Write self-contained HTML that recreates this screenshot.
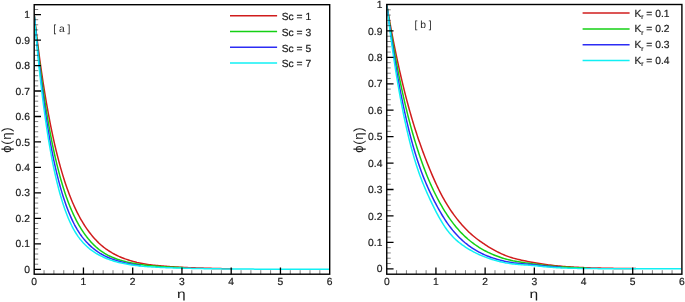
<!DOCTYPE html>
<html lang="en"><head><meta charset="utf-8"><title>Concentration profiles</title>
<style>
html,body{margin:0;padding:0;background:#fff;overflow:hidden}
svg{display:block;font-family:"Liberation Sans", Arial, Helvetica, sans-serif;text-rendering:geometricPrecision}
</style></head><body>
<svg width="685" height="302" viewBox="0 0 685 302">
<rect width="685" height="302" fill="#fff"/>
<g id="panel-a">
<clipPath id="clip-a"><rect x="34.9" y="5.4" width="294.1" height="268.1"/></clipPath>
<g clip-path="url(#clip-a)">
<path d="M34.2 14.6 L34.25 15.01 L34.34 15.83 L34.47 16.95 L34.62 18.31 L34.8 19.88 L35.01 21.65 L35.23 23.58 L35.48 25.67 L35.75 27.91 L36.03 30.28 L36.33 32.76 L36.65 35.37 L36.98 38.07 L37.33 40.87 L37.7 43.75 L38.08 46.71 L38.48 49.75 L38.88 52.85 L39.31 56.01 L39.74 59.23 L40.19 62.49 L40.66 65.79 L41.13 69.13 L41.62 72.51 L42.12 75.9 L42.64 79.33 L43.16 82.76 L43.7 86.22 L44.25 89.68 L44.81 93.15 L45.38 96.61 L45.96 100.08 L46.55 103.54 L47.16 106.99 L47.77 110.43 L48.4 113.86 L49.04 117.26 L49.68 120.65 L50.34 124.02 L51.01 127.35 L51.69 130.67 L52.37 133.95 L53.07 137.2 L53.78 140.41 L54.49 143.6 L55.22 146.74 L55.96 149.85 L56.7 152.91 L57.46 155.94 L58.22 158.92 L58.99 161.86 L59.78 164.75 L60.57 167.6 L61.37 170.41 L62.18 173.16 L63 175.87 L63.82 178.53 L64.66 181.15 L65.5 183.71 L66.36 186.23 L67.22 188.69 L68.09 191.11 L68.97 193.48 L69.85 195.79 L70.75 198.06 L71.65 200.28 L72.57 202.45 L73.49 204.57 L74.41 206.64 L75.35 208.66 L76.3 210.63 L77.25 212.56 L78.21 214.44 L79.18 216.27 L80.15 218.05 L81.14 219.79 L82.13 221.49 L83.13 223.14 L84.14 224.75 L85.15 226.31 L86.18 227.84 L87.21 229.33 L88.24 230.77 L89.29 232.18 L90.34 233.55 L91.4 234.88 L92.47 236.18 L93.55 237.44 L94.63 238.66 L95.72 239.85 L96.82 241 L97.92 242.11 L99.03 243.19 L100.15 244.22 L101.28 245.22 L102.41 246.19 L103.55 247.12 L104.7 248.01 L105.85 248.87 L107.01 249.69 L108.18 250.49 L109.36 251.25 L110.54 251.98 L111.73 252.69 L112.93 253.36 L114.13 254.01 L115.34 254.64 L116.56 255.25 L117.78 255.83 L119.01 256.4 L120.25 256.94 L121.49 257.46 L122.74 257.96 L124 258.44 L125.26 258.91 L126.53 259.35 L127.81 259.79 L129.09 260.2 L130.38 260.61 L131.68 261 L132.98 261.37 L134.29 261.73 L135.61 262.08 L136.93 262.42 L138.26 262.73 L139.59 263.02 L140.93 263.3 L142.28 263.56 L143.64 263.8 L145 264.03 L146.36 264.24 L147.74 264.44 L149.12 264.63 L150.5 264.8 L151.89 264.98 L153.29 265.14 L154.7 265.3 L156.11 265.45 L157.52 265.6 L158.95 265.74 L160.37 265.87 L161.81 266 L163.25 266.12 L164.7 266.24 L166.15 266.36 L167.61 266.47 L169.07 266.57 L170.54 266.67 L172.02 266.77 L173.5 266.87 L174.99 266.96 L176.49 267.04 L177.99 267.12 L179.5 267.21 L181.01 267.28 L182.53 267.36 L184.05 267.43 L185.58 267.5 L187.12 267.57 L188.66 267.63 L190.21 267.7 L191.76 267.76 L193.32 267.81 L194.88 267.87 L196.45 267.92 L198.03 267.97 L199.61 268.02 L201.2 268.07 L202.79 268.12 L204.39 268.17 L206 268.21 L207.61 268.26 L209.22 268.3 L210.84 268.35 L212.47 268.39 L214.1 268.44 L215.74 268.48 L217.39 268.52 L219.04 268.56 L220.69 268.59 L222.35 268.63 L224.02 268.66 L225.69 268.69 L227.36 268.72 L229.05 268.75 L230.74 268.78 L232.43 268.81" fill="none" stroke="#d01c1c" stroke-width="1.5" stroke-linejoin="round"/>
<path d="M34.2 14.6 L34.25 15.06 L34.34 15.98 L34.47 17.23 L34.62 18.76 L34.8 20.52 L35.01 22.5 L35.23 24.66 L35.48 27 L35.75 29.49 L36.03 32.13 L36.33 34.9 L36.65 37.8 L36.98 40.8 L37.33 43.9 L37.7 47.09 L38.08 50.37 L38.48 53.72 L38.88 57.13 L39.31 60.61 L39.74 64.14 L40.19 67.71 L40.66 71.32 L41.13 74.97 L41.62 78.64 L42.12 82.33 L42.64 86.04 L43.16 89.76 L43.7 93.49 L44.25 97.22 L44.81 100.94 L45.38 104.66 L45.96 108.37 L46.55 112.06 L47.16 115.73 L47.77 119.38 L48.4 123 L49.04 126.6 L49.68 130.16 L50.34 133.69 L51.01 137.19 L51.69 140.64 L52.37 144.06 L53.07 147.43 L53.78 150.75 L54.49 154.03 L55.22 157.27 L55.96 160.45 L56.7 163.58 L57.46 166.66 L58.22 169.69 L58.99 172.66 L59.78 175.58 L60.57 178.44 L61.37 181.25 L62.18 184 L63 186.69 L63.82 189.33 L64.66 191.91 L65.5 194.43 L66.36 196.9 L67.22 199.31 L68.09 201.66 L68.97 203.95 L69.85 206.19 L70.75 208.37 L71.65 210.5 L72.57 212.57 L73.49 214.58 L74.41 216.54 L75.35 218.45 L76.3 220.31 L77.25 222.11 L78.21 223.86 L79.18 225.56 L80.15 227.21 L81.14 228.82 L82.13 230.38 L83.13 231.89 L84.14 233.35 L85.15 234.77 L86.18 236.15 L87.21 237.48 L88.24 238.78 L89.29 240.02 L90.34 241.23 L91.4 242.4 L92.47 243.53 L93.55 244.62 L94.63 245.67 L95.72 246.68 L96.82 247.66 L97.92 248.6 L99.03 249.51 L100.15 250.37 L101.28 251.2 L102.41 251.98 L103.55 252.73 L104.7 253.45 L105.85 254.12 L107.01 254.77 L108.18 255.38 L109.36 255.96 L110.54 256.51 L111.73 257.04 L112.93 257.54 L114.13 258.02 L115.34 258.48 L116.56 258.92 L117.78 259.35 L119.01 259.76 L120.25 260.15 L121.49 260.53 L122.74 260.89 L124 261.24 L125.26 261.57 L126.53 261.89 L127.81 262.2 L129.09 262.49 L130.38 262.77 L131.68 263.05 L132.98 263.31 L134.29 263.55 L135.61 263.79 L136.93 264.02 L138.26 264.23 L139.59 264.43 L140.93 264.63 L142.28 264.81 L143.64 264.98 L145 265.15 L146.36 265.31 L147.74 265.45 L149.12 265.6 L150.5 265.73 L151.89 265.87 L153.29 265.99 L154.7 266.11 L156.11 266.23 L157.52 266.34 L158.95 266.45 L160.37 266.55 L161.81 266.65 L163.25 266.74 L164.7 266.83 L166.15 266.92 L167.61 267 L169.07 267.08 L170.54 267.16 L172.02 267.23 L173.5 267.3 L174.99 267.37 L176.49 267.44 L177.99 267.5 L179.5 267.56 L181.01 267.62 L182.53 267.68 L184.05 267.74" fill="none" stroke="#14d014" stroke-width="1.5" stroke-linejoin="round"/>
<path d="M34.2 14.6 L34.25 15.11 L34.34 16.13 L34.47 17.52 L34.62 19.21 L34.8 21.16 L35.01 23.34 L35.23 25.74 L35.48 28.32 L35.75 31.07 L36.03 33.97 L36.33 37.02 L36.65 40.19 L36.98 43.48 L37.33 46.88 L37.7 50.37 L38.08 53.94 L38.48 57.59 L38.88 61.31 L39.31 65.08 L39.74 68.9 L40.19 72.77 L40.66 76.67 L41.13 80.59 L41.62 84.54 L42.12 88.5 L42.64 92.47 L43.16 96.44 L43.7 100.41 L44.25 104.37 L44.81 108.31 L45.38 112.24 L45.96 116.15 L46.55 120.03 L47.16 123.88 L47.77 127.7 L48.4 131.48 L49.04 135.22 L49.68 138.92 L50.34 142.57 L51.01 146.18 L51.69 149.73 L52.37 153.24 L53.07 156.68 L53.78 160.07 L54.49 163.41 L55.22 166.68 L55.96 169.9 L56.7 173.05 L57.46 176.14 L58.22 179.17 L58.99 182.13 L59.78 185.03 L60.57 187.87 L61.37 190.64 L62.18 193.35 L63 195.99 L63.82 198.56 L64.66 201.08 L65.5 203.52 L66.36 205.91 L67.22 208.22 L68.09 210.48 L68.97 212.67 L69.85 214.81 L70.75 216.88 L71.65 218.89 L72.57 220.84 L73.49 222.71 L74.41 224.53 L75.35 226.28 L76.3 227.97 L77.25 229.6 L78.21 231.16 L79.18 232.67 L80.15 234.12 L81.14 235.51 L82.13 236.85 L83.13 238.13 L84.14 239.36 L85.15 240.55 L86.18 241.69 L87.21 242.79 L88.24 243.85 L89.29 244.88 L90.34 245.87 L91.4 246.83 L92.47 247.76 L93.55 248.65 L94.63 249.51 L95.72 250.34 L96.82 251.14 L97.92 251.91 L99.03 252.65 L100.15 253.35 L101.28 254.02 L102.41 254.66 L103.55 255.28 L104.7 255.86 L105.85 256.42 L107.01 256.95 L108.18 257.46 L109.36 257.95 L110.54 258.41 L111.73 258.85 L112.93 259.28 L114.13 259.69 L115.34 260.09 L116.56 260.48 L117.78 260.85 L119.01 261.21 L120.25 261.57 L121.49 261.9 L122.74 262.23 L124 262.55 L125.26 262.86 L126.53 263.15 L127.81 263.43 L129.09 263.7 L130.38 263.96 L131.68 264.2 L132.98 264.44 L134.29 264.66 L135.61 264.87 L136.93 265.07 L138.26 265.26 L139.59 265.43 L140.93 265.59" fill="none" stroke="#2c2cf4" stroke-width="1.5" stroke-linejoin="round"/>
<path d="M34.2 14.6 L34.25 15.15 L34.34 16.27 L34.47 17.78 L34.62 19.62 L34.8 21.74 L35.01 24.11 L35.23 26.7 L35.48 29.5 L35.75 32.48 L36.03 35.63 L36.33 38.92 L36.65 42.35 L36.98 45.9 L37.33 49.55 L37.7 53.31 L38.08 57.14 L38.48 61.06 L38.88 65.03 L39.31 69.07 L39.74 73.15 L40.19 77.26 L40.66 81.41 L41.13 85.57 L41.62 89.75 L42.12 93.94 L42.64 98.13 L43.16 102.31 L43.7 106.48 L44.25 110.64 L44.81 114.77 L45.38 118.87 L45.96 122.94 L46.55 126.98 L47.16 130.97 L47.77 134.93 L48.4 138.83 L49.04 142.68 L49.68 146.48 L50.34 150.23 L51.01 153.91 L51.69 157.53 L52.37 161.09 L53.07 164.59 L53.78 168.02 L54.49 171.38 L55.22 174.68 L55.96 177.9 L56.7 181.05 L57.46 184.14 L58.22 187.15 L58.99 190.09 L59.78 192.95 L60.57 195.75 L61.37 198.47 L62.18 201.12 L63 203.7 L63.82 206.2 L64.66 208.64 L65.5 211 L66.36 213.3 L67.22 215.53 L68.09 217.68 L68.97 219.76 L69.85 221.75 L70.75 223.68 L71.65 225.53 L72.57 227.31 L73.49 229.03 L74.41 230.67 L75.35 232.24 L76.3 233.75 L77.25 235.2 L78.21 236.58 L79.18 237.91 L80.15 239.17 L81.14 240.38 L82.13 241.55 L83.13 242.68 L84.14 243.76 L85.15 244.8 L86.18 245.79 L87.21 246.75 L88.24 247.67 L89.29 248.55 L90.34 249.39 L91.4 250.2 L92.47 250.98 L93.55 251.72 L94.63 252.44 L95.72 253.12 L96.82 253.77 L97.92 254.4 L99.03 255 L100.15 255.59 L101.28 256.15 L102.41 256.69 L103.55 257.22 L104.7 257.73 L105.85 258.21 L107.01 258.68 L108.18 259.14 L109.36 259.58 L110.54 260 L111.73 260.4 L112.93 260.79 L114.13 261.16 L115.34 261.52 L116.56 261.86 L117.78 262.18 L119.01 262.49 L120.25 262.79 L121.49 263.07 L122.74 263.34 L124 263.6 L125.26 263.85 L126.53 264.08 L127.81 264.31 L129.09 264.52 L130.38 264.73 L131.68 264.93 L132.98 265.11 L134.29 265.29 L135.61 265.46 L136.93 265.62 L138.26 265.78 L139.59 265.92 L140.93 266.06 L142.28 266.19 L143.64 266.31 L145 266.42 L146.36 266.53 L147.74 266.63 L149.12 266.73 L150.5 266.83 L151.89 266.92 L153.29 267 L154.7 267.09 L156.11 267.17 L157.52 267.24 L158.95 267.31 L160.37 267.38 L161.81 267.45 L163.25 267.51 L164.7 267.57 L166.15 267.63 L167.61 267.69 L169.07 267.74 L170.54 267.79 L172.02 267.84 L173.5 267.89 L174.99 267.93 L176.49 267.97 L177.99 268.02 L179.5 268.06 L181.01 268.1 L182.53 268.15 L184.05 268.19 L185.58 268.23 L187.12 268.27 L188.66 268.31 L190.21 268.35 L191.76 268.39 L193.32 268.43 L194.88 268.46 L196.45 268.5 L198.03 268.53 L199.61 268.56 L201.2 268.59 L202.79 268.62 L204.39 268.65 L206 268.67 L207.61 268.7 L209.22 268.72 L210.84 268.74 L212.47 268.76 L214.1 268.79 L215.74 268.81 L217.39 268.82 L219.04 268.84 L220.69 268.86 L222.35 268.88 L224.02 268.89 L225.69 268.91 L227.36 268.92 L229.05 268.94 L230.74 268.95 L232.43 268.97 L234.13 268.98 L235.83 269 L237.54 269.01 L239.26 269.03 L240.98 269.04 L242.7 269.05 L244.43 269.06 L246.17 269.08 L247.91 269.09 L249.66 269.1 L251.41 269.11 L253.17 269.12 L254.93 269.13 L256.7 269.13 L258.48 269.14 L260.25 269.15 L262.04 269.16 L263.83 269.16 L265.62 269.17 L267.42 269.18 L269.23 269.18 L271.04 269.19 L272.85 269.19 L274.68 269.2 L276.5 269.2 L278.33 269.21 L280.17 269.21 L282.01 269.22 L283.86 269.22 L285.71 269.23 L287.57 269.23 L289.43 269.24 L291.3 269.24 L293.17 269.24 L295.05 269.25 L296.93 269.25 L298.82 269.25 L300.71 269.26 L302.61 269.26 L304.51 269.26 L306.42 269.26 L308.33 269.27 L310.25 269.27 L312.17 269.27 L314.1 269.27 L316.03 269.27 L317.97 269.27 L319.91 269.28 L321.86 269.28 L323.81 269.28 L325.77 269.28 L327.73 269.28 L329.7 269.28" fill="none" stroke="#10f0f4" stroke-width="1.5" stroke-linejoin="round"/>
</g>
<path d="M44.05 274.2 V270.2 M53.9 274.2 V270.2 M63.75 274.2 V270.2 M73.6 274.2 V270.2 M93.3 274.2 V270.2 M103.15 274.2 V270.2 M113 274.2 V270.2 M122.85 274.2 V270.2 M142.55 274.2 V270.2 M152.4 274.2 V270.2 M162.25 274.2 V270.2 M172.1 274.2 V270.2 M191.8 274.2 V270.2 M201.65 274.2 V270.2 M211.5 274.2 V270.2 M221.35 274.2 V270.2 M241.05 274.2 V270.2 M250.9 274.2 V270.2 M260.75 274.2 V270.2 M270.6 274.2 V270.2 M290.3 274.2 V270.2 M300.15 274.2 V270.2 M310 274.2 V270.2 M319.85 274.2 V270.2 M34.2 264.21 H38.2 M34.2 259.11 H38.2 M34.2 254.02 H38.2 M34.2 248.92 H38.2 M34.2 238.74 H38.2 M34.2 233.64 H38.2 M34.2 228.55 H38.2 M34.2 223.45 H38.2 M34.2 213.27 H38.2 M34.2 208.17 H38.2 M34.2 203.08 H38.2 M34.2 197.98 H38.2 M34.2 187.8 H38.2 M34.2 182.7 H38.2 M34.2 177.61 H38.2 M34.2 172.51 H38.2 M34.2 162.33 H38.2 M34.2 157.23 H38.2 M34.2 152.14 H38.2 M34.2 147.04 H38.2 M34.2 136.86 H38.2 M34.2 131.76 H38.2 M34.2 126.67 H38.2 M34.2 121.57 H38.2 M34.2 111.39 H38.2 M34.2 106.29 H38.2 M34.2 101.2 H38.2 M34.2 96.1 H38.2 M34.2 85.92 H38.2 M34.2 80.82 H38.2 M34.2 75.73 H38.2 M34.2 70.63 H38.2 M34.2 60.45 H38.2 M34.2 55.35 H38.2 M34.2 50.26 H38.2 M34.2 45.16 H38.2 M34.2 34.98 H38.2 M34.2 29.88 H38.2 M34.2 24.79 H38.2 M34.2 19.69 H38.2 M34.2 9.51 H38.2" stroke="#000" stroke-width="0.5" fill="none"/>
<path d="M83.45 274.2 V267.4 M132.7 274.2 V267.4 M181.95 274.2 V267.4 M231.2 274.2 V267.4 M280.45 274.2 V267.4 M34.2 269.3 H41 M34.2 243.83 H41 M34.2 218.36 H41 M34.2 192.89 H41 M34.2 167.42 H41 M34.2 141.95 H41 M34.2 116.48 H41 M34.2 91.01 H41 M34.2 65.54 H41 M34.2 40.07 H41 M34.2 14.6 H41" stroke="#000" stroke-width="1.3" fill="none"/>
<rect x="34.2" y="4.7" width="295.5" height="269.5" fill="none" stroke="#000" stroke-width="1.4"/>
<g font-size="10.3" fill="#1a1a1a" stroke="#1a1a1a" stroke-width="0.2">
<text x="34.2" y="284.7" text-anchor="middle">0</text>
<text x="83.45" y="284.7" text-anchor="middle">1</text>
<text x="132.7" y="284.7" text-anchor="middle">2</text>
<text x="181.95" y="284.7" text-anchor="middle">3</text>
<text x="231.2" y="284.7" text-anchor="middle">4</text>
<text x="280.45" y="284.7" text-anchor="middle">5</text>
<text x="329.7" y="284.7" text-anchor="middle">6</text>
<text x="29.9" y="272.9" text-anchor="end">0</text>
<text x="29.9" y="247.43" text-anchor="end">0.1</text>
<text x="29.9" y="221.96" text-anchor="end">0.2</text>
<text x="29.9" y="196.49" text-anchor="end">0.3</text>
<text x="29.9" y="171.02" text-anchor="end">0.4</text>
<text x="29.9" y="145.55" text-anchor="end">0.5</text>
<text x="29.9" y="120.08" text-anchor="end">0.6</text>
<text x="29.9" y="94.61" text-anchor="end">0.7</text>
<text x="29.9" y="69.14" text-anchor="end">0.8</text>
<text x="29.9" y="43.67" text-anchor="end">0.9</text>
<text x="29.9" y="18.2" text-anchor="end">1</text>
<text x="53.2" y="32.4" stroke="none" fill="#2a2a2a">[ a ]</text>
<text x="281.7" y="20.05">Sc = 1</text>
<text x="281.7" y="35.9">Sc = 3</text>
<text x="281.7" y="51.6">Sc = 5</text>
<text x="281.7" y="67.4">Sc = 7</text>
</g>
<path d="M230 15.65 H277.1" stroke="#d01c1c" stroke-width="1.5"/>
<path d="M230 31.5 H277.1" stroke="#14d014" stroke-width="1.5"/>
<path d="M230 47.2 H277.1" stroke="#2c2cf4" stroke-width="1.5"/>
<path d="M230 63 H277.1" stroke="#10f0f4" stroke-width="1.5"/>
<text transform="translate(181.35 297.6) scale(1.3 1)" font-size="12" text-anchor="middle" fill="#1a1a1a">η</text>
<text transform="translate(10.6 139.7) rotate(-90)" font-size="13.2" letter-spacing="0.6" text-anchor="middle" fill="#1a1a1a">ϕ(η)</text>
</g>
<g id="panel-b">
<clipPath id="clip-b"><rect x="387.45" y="5.2" width="293.75" height="268.3"/></clipPath>
<g clip-path="url(#clip-b)">
<path d="M386.75 4.5 L386.8 4.77 L386.89 5.32 L387.02 6.07 L387.17 6.98 L387.35 8.04 L387.56 9.23 L387.78 10.53 L388.03 11.95 L388.29 13.47 L388.58 15.08 L388.88 16.79 L389.2 18.57 L389.53 20.44 L389.88 22.37 L390.25 24.38 L390.63 26.45 L391.02 28.59 L391.43 30.77 L391.85 33.02 L392.29 35.31 L392.74 37.65 L393.2 40.03 L393.68 42.46 L394.16 44.92 L394.66 47.42 L395.18 49.95 L395.7 52.51 L396.24 55.09 L396.79 57.7 L397.34 60.34 L397.92 62.99 L398.5 65.66 L399.09 68.35 L399.69 71.04 L400.31 73.76 L400.93 76.47 L401.57 79.2 L402.22 81.93 L402.87 84.67 L403.54 87.41 L404.21 90.15 L404.9 92.88 L405.6 95.62 L406.3 98.35 L407.02 101.07 L407.75 103.79 L408.48 106.5 L409.22 109.2 L409.98 111.88 L410.74 114.56 L411.51 117.22 L412.3 119.87 L413.09 122.5 L413.89 125.11 L414.69 127.71 L415.51 130.29 L416.34 132.85 L417.17 135.39 L418.02 137.9 L418.87 140.4 L419.73 142.87 L420.6 145.33 L421.48 147.78 L422.36 150.21 L423.26 152.63 L424.16 155.04 L425.07 157.44 L425.99 159.82 L426.92 162.19 L427.85 164.55 L428.8 166.89 L429.75 169.22 L430.71 171.54 L431.67 173.84 L432.65 176.13 L433.63 178.39 L434.62 180.63 L435.62 182.84 L436.63 185.01 L437.64 187.16 L438.66 189.27 L439.69 191.34 L440.73 193.37 L441.77 195.37 L442.83 197.32 L443.89 199.23 L444.95 201.1 L446.03 202.92 L447.11 204.71 L448.2 206.46 L449.29 208.17 L450.4 209.83 L451.51 211.46 L452.62 213.05 L453.75 214.62 L454.88 216.15 L456.02 217.65 L457.17 219.12 L458.32 220.56 L459.48 221.97 L460.65 223.35 L461.82 224.7 L463 226.02 L464.19 227.31 L465.38 228.57 L466.59 229.8 L467.79 231 L469.01 232.17 L470.23 233.3 L471.46 234.4 L472.7 235.48 L473.94 236.52 L475.19 237.53 L476.44 238.52 L477.7 239.48 L478.97 240.41 L480.25 241.32 L481.53 242.22 L482.82 243.11 L484.11 243.98 L485.41 244.84 L486.72 245.69 L488.04 246.52 L489.36 247.33 L490.68 248.13 L492.02 248.92 L493.36 249.69 L494.7 250.43 L496.06 251.15 L497.42 251.85 L498.78 252.53 L500.15 253.18 L501.53 253.81 L502.91 254.43 L504.3 255.02 L505.7 255.58 L507.1 256.11 L508.51 256.61 L509.93 257.09 L511.35 257.55 L512.77 257.98 L514.21 258.38 L515.65 258.77 L517.09 259.13 L518.54 259.49 L520 259.83 L521.46 260.16 L522.93 260.48 L524.41 260.78 L525.89 261.08 L527.38 261.37 L528.87 261.65 L530.37 261.93 L531.87 262.21 L533.38 262.48 L534.9 262.75 L536.42 263.01 L537.95 263.27 L539.49 263.53 L541.03 263.78 L542.57 264.02 L544.12 264.25 L545.68 264.48 L547.24 264.69 L548.81 264.9 L550.39 265.09 L551.97 265.28 L553.55 265.46 L555.14 265.63 L556.74 265.8 L558.34 265.95 L559.95 266.1 L561.56 266.24 L563.18 266.38 L564.81 266.51 L566.44 266.63 L568.08 266.75 L569.72 266.87 L571.37 266.97 L573.02 267.07 L574.68 267.17 L576.34 267.26 L578.01 267.35 L579.69 267.43 L581.37 267.51 L583.05 267.58 L584.74 267.65 L586.44 267.72 L588.14 267.78 L589.85 267.84 L591.56 267.89 L593.28 267.94 L595.01 267.99 L596.73 268.04 L598.47 268.08 L600.21 268.12 L601.95 268.16 L603.7 268.2 L605.46 268.24 L607.22 268.27 L608.99 268.3 L610.76 268.33 L612.54 268.36 L614.32 268.39 L616.11 268.41 L617.9 268.44 L619.7 268.46 L621.5 268.48 L623.31 268.5 L625.12 268.52 L626.94 268.54 L628.76 268.55 L630.59 268.57 L632.43 268.59 L634.27 268.6 L636.11 268.61" fill="none" stroke="#d01c1c" stroke-width="1.5" stroke-linejoin="round"/>
<path d="M386.75 4.5 L386.8 4.81 L386.89 5.44 L387.02 6.3 L387.17 7.34 L387.35 8.55 L387.56 9.91 L387.78 11.4 L388.03 13.02 L388.29 14.75 L388.58 16.59 L388.88 18.53 L389.2 20.56 L389.53 22.68 L389.88 24.88 L390.25 27.15 L390.63 29.5 L391.02 31.91 L391.43 34.38 L391.85 36.91 L392.29 39.5 L392.74 42.13 L393.2 44.81 L393.68 47.53 L394.16 50.28 L394.66 53.08 L395.18 55.9 L395.7 58.75 L396.24 61.63 L396.79 64.53 L397.34 67.45 L397.92 70.39 L398.5 73.34 L399.09 76.3 L399.69 79.27 L400.31 82.25 L400.93 85.23 L401.57 88.21 L402.22 91.2 L402.87 94.18 L403.54 97.16 L404.21 100.13 L404.9 103.09 L405.6 106.05 L406.3 108.99 L407.02 111.92 L407.75 114.84 L408.48 117.74 L409.22 120.62 L409.98 123.48 L410.74 126.32 L411.51 129.15 L412.3 131.95 L413.09 134.72 L413.89 137.47 L414.69 140.2 L415.51 142.9 L416.34 145.57 L417.17 148.22 L418.02 150.84 L418.87 153.43 L419.73 156 L420.6 158.53 L421.48 161.04 L422.36 163.52 L423.26 165.96 L424.16 168.38 L425.07 170.76 L425.99 173.11 L426.92 175.43 L427.85 177.72 L428.8 179.97 L429.75 182.19 L430.71 184.38 L431.67 186.53 L432.65 188.64 L433.63 190.72 L434.62 192.78 L435.62 194.79 L436.63 196.78 L437.64 198.74 L438.66 200.66 L439.69 202.55 L440.73 204.41 L441.77 206.24 L442.83 208.03 L443.89 209.79 L444.95 211.52 L446.03 213.22 L447.11 214.88 L448.2 216.51 L449.29 218.1 L450.4 219.66 L451.51 221.18 L452.62 222.67 L453.75 224.12 L454.88 225.54 L456.02 226.93 L457.17 228.28 L458.32 229.6 L459.48 230.89 L460.65 232.14 L461.82 233.36 L463 234.55 L464.19 235.71 L465.38 236.83 L466.59 237.92 L467.79 238.98 L469.01 240.01 L470.23 241.02 L471.46 241.99 L472.7 242.94 L473.94 243.86 L475.19 244.75 L476.44 245.62 L477.7 246.46 L478.97 247.28 L480.25 248.07 L481.53 248.83 L482.82 249.58 L484.11 250.3 L485.41 250.99 L486.72 251.66 L488.04 252.31 L489.36 252.94 L490.68 253.55 L492.02 254.13 L493.36 254.7 L494.7 255.25 L496.06 255.78 L497.42 256.29 L498.78 256.79 L500.15 257.26 L501.53 257.73 L502.91 258.17 L504.3 258.6 L505.7 259.01 L507.1 259.39 L508.51 259.75 L509.93 260.09 L511.35 260.41 L512.77 260.72 L514.21 261 L515.65 261.27 L517.09 261.53 L518.54 261.77 L520 262.01 L521.46 262.23 L522.93 262.46 L524.41 262.67 L525.89 262.87 L527.38 263.07 L528.87 263.27 L530.37 263.47 L531.87 263.67 L533.38 263.88 L534.9 264.08 L536.42 264.29 L537.95 264.5 L539.49 264.71 L541.03 264.92 L542.57 265.13 L544.12 265.32 L545.68 265.51 L547.24 265.69 L548.81 265.86 L550.39 266.02 L551.97 266.17 L553.55 266.32 L555.14 266.46 L556.74 266.59 L558.34 266.72 L559.95 266.84 L561.56 266.95 L563.18 267.06 L564.81 267.16 L566.44 267.26 L568.08 267.35 L569.72 267.44 L571.37 267.52 L573.02 267.6 L574.68 267.67 L576.34 267.74 L578.01 267.81 L579.69 267.87 L581.37 267.93 L583.05 267.98 L584.74 268.03 L586.44 268.08" fill="none" stroke="#14d014" stroke-width="1.5" stroke-linejoin="round"/>
<path d="M386.75 4.5 L386.8 4.85 L386.89 5.57 L387.02 6.55 L387.17 7.74 L387.35 9.12 L387.56 10.67 L387.78 12.36 L388.03 14.2 L388.29 16.17 L388.58 18.25 L388.88 20.45 L389.2 22.75 L389.53 25.14 L389.88 27.62 L390.25 30.18 L390.63 32.82 L391.02 35.53 L391.43 38.3 L391.85 41.12 L392.29 44.01 L392.74 46.94 L393.2 49.92 L393.68 52.93 L394.16 55.98 L394.66 59.07 L395.18 62.18 L395.7 65.32 L396.24 68.47 L396.79 71.65 L397.34 74.83 L397.92 78.03 L398.5 81.24 L399.09 84.45 L399.69 87.66 L400.31 90.87 L400.93 94.07 L401.57 97.27 L402.22 100.46 L402.87 103.64 L403.54 106.81 L404.21 109.96 L404.9 113.1 L405.6 116.21 L406.3 119.31 L407.02 122.38 L407.75 125.43 L408.48 128.45 L409.22 131.45 L409.98 134.41 L410.74 137.35 L411.51 140.26 L412.3 143.12 L413.09 145.95 L413.89 148.74 L414.69 151.49 L415.51 154.2 L416.34 156.87 L417.17 159.49 L418.02 162.07 L418.87 164.61 L419.73 167.1 L420.6 169.55 L421.48 171.95 L422.36 174.3 L423.26 176.61 L424.16 178.87 L425.07 181.09 L425.99 183.27 L426.92 185.4 L427.85 187.5 L428.8 189.58 L429.75 191.62 L430.71 193.65 L431.67 195.66 L432.65 197.64 L433.63 199.6 L434.62 201.54 L435.62 203.46 L436.63 205.35 L437.64 207.23 L438.66 209.08 L439.69 210.91 L440.73 212.72 L441.77 214.5 L442.83 216.24 L443.89 217.94 L444.95 219.6 L446.03 221.22 L447.11 222.8 L448.2 224.34 L449.29 225.85 L450.4 227.32 L451.51 228.75 L452.62 230.14 L453.75 231.49 L454.88 232.8 L456.02 234.07 L457.17 235.31 L458.32 236.51 L459.48 237.68 L460.65 238.81 L461.82 239.9 L463 240.96 L464.19 241.99 L465.38 242.99 L466.59 243.95 L467.79 244.89 L469.01 245.79 L470.23 246.67 L471.46 247.52 L472.7 248.34 L473.94 249.13 L475.19 249.9 L476.44 250.64 L477.7 251.35 L478.97 252.04 L480.25 252.71 L481.53 253.35 L482.82 253.97 L484.11 254.56 L485.41 255.14 L486.72 255.69 L488.04 256.21 L489.36 256.72 L490.68 257.21 L492.02 257.67 L493.36 258.12 L494.7 258.56 L496.06 258.97 L497.42 259.38 L498.78 259.77 L500.15 260.14 L501.53 260.5 L502.91 260.85 L504.3 261.18 L505.7 261.49 L507.1 261.77 L508.51 262.04 L509.93 262.28 L511.35 262.51 L512.77 262.72 L514.21 262.91 L515.65 263.08 L517.09 263.24 L518.54 263.39 L520 263.54 L521.46 263.68 L522.93 263.82 L524.41 263.95 L525.89 264.08 L527.38 264.2 L528.87 264.32 L530.37 264.46 L531.87 264.6 L533.38 264.76 L534.9 264.92 L536.42 265.09 L537.95 265.27 L539.49 265.46 L541.03 265.64 L542.57 265.83 L544.12 266 L545.68 266.17 L547.24 266.33 L548.81 266.48 L550.39 266.62 L551.97 266.75 L553.55 266.88 L555.14 267 L556.74 267.11 L558.34 267.22 L559.95 267.32 L561.56 267.42" fill="none" stroke="#2c2cf4" stroke-width="1.5" stroke-linejoin="round"/>
<path d="M386.75 4.5 L386.8 4.89 L386.89 5.68 L387.02 6.76 L387.17 8.07 L387.35 9.59 L387.56 11.29 L387.78 13.16 L388.03 15.18 L388.29 17.34 L388.58 19.63 L388.88 22.03 L389.2 24.55 L389.53 27.16 L389.88 29.87 L390.25 32.66 L390.63 35.53 L391.02 38.48 L391.43 41.48 L391.85 44.55 L392.29 47.67 L392.74 50.84 L393.2 54.04 L393.68 57.29 L394.16 60.57 L394.66 63.88 L395.18 67.21 L395.7 70.56 L396.24 73.92 L396.79 77.3 L397.34 80.68 L397.92 84.07 L398.5 87.46 L399.09 90.85 L399.69 94.23 L400.31 97.6 L400.93 100.96 L401.57 104.31 L402.22 107.64 L402.87 110.95 L403.54 114.24 L404.21 117.51 L404.9 120.75 L405.6 123.96 L406.3 127.15 L407.02 130.3 L407.75 133.42 L408.48 136.51 L409.22 139.56 L409.98 142.57 L410.74 145.53 L411.51 148.45 L412.3 151.32 L413.09 154.14 L413.89 156.92 L414.69 159.65 L415.51 162.32 L416.34 164.95 L417.17 167.52 L418.02 170.04 L418.87 172.51 L419.73 174.93 L420.6 177.3 L421.48 179.6 L422.36 181.87 L423.26 184.08 L424.16 186.25 L425.07 188.4 L425.99 190.52 L426.92 192.63 L427.85 194.72 L428.8 196.79 L429.75 198.85 L430.71 200.89 L431.67 202.91 L432.65 204.93 L433.63 206.91 L434.62 208.89 L435.62 210.85 L436.63 212.79 L437.64 214.72 L438.66 216.6 L439.69 218.44 L440.73 220.23 L441.77 221.98 L442.83 223.69 L443.89 225.34 L444.95 226.96 L446.03 228.5 L447.11 229.99 L448.2 231.42 L449.29 232.79 L450.4 234.11 L451.51 235.36 L452.62 236.57 L453.75 237.72 L454.88 238.82 L456.02 239.87 L457.17 240.87 L458.32 241.83 L459.48 242.77 L460.65 243.67 L461.82 244.55 L463 245.39 L464.19 246.22 L465.38 247.02 L466.59 247.8 L467.79 248.55 L469.01 249.29 L470.23 250.01 L471.46 250.71 L472.7 251.39 L473.94 252.05 L475.19 252.69 L476.44 253.31 L477.7 253.92 L478.97 254.5 L480.25 255.07 L481.53 255.62 L482.82 256.16 L484.11 256.67 L485.41 257.17 L486.72 257.66 L488.04 258.13 L489.36 258.58 L490.68 259.02 L492.02 259.45 L493.36 259.86 L494.7 260.26 L496.06 260.64 L497.42 261 L498.78 261.35 L500.15 261.69 L501.53 262.01 L502.91 262.32 L504.3 262.61 L505.7 262.89 L507.1 263.13 L508.51 263.36 L509.93 263.57 L511.35 263.76 L512.77 263.93 L514.21 264.09 L515.65 264.22 L517.09 264.35 L518.54 264.47 L520 264.58 L521.46 264.69 L522.93 264.8 L524.41 264.9 L525.89 265 L527.38 265.1 L528.87 265.19 L530.37 265.3 L531.87 265.42 L533.38 265.56 L534.9 265.7 L536.42 265.85 L537.95 266.01 L539.49 266.18 L541.03 266.35 L542.57 266.52 L544.12 266.68 L545.68 266.82 L547.24 266.96 L548.81 267.09 L550.39 267.22 L551.97 267.33 L553.55 267.44 L555.14 267.54 L556.74 267.63 L558.34 267.72 L559.95 267.8 L561.56 267.88 L563.18 267.95 L564.81 268.02 L566.44 268.08 L568.08 268.14 L569.72 268.19 L571.37 268.24 L573.02 268.29 L574.68 268.33 L576.34 268.37 L578.01 268.4 L579.69 268.44 L581.37 268.47 L583.05 268.49 L584.74 268.51 L586.44 268.54 L588.14 268.55 L589.85 268.57 L591.56 268.58 L593.28 268.6 L595.01 268.61 L596.73 268.62 L598.47 268.64 L600.21 268.65 L601.95 268.66 L603.7 268.67 L605.46 268.68 L607.22 268.68 L608.99 268.69 L610.76 268.7 L612.54 268.71 L614.32 268.71 L616.11 268.72 L617.9 268.72 L619.7 268.73 L621.5 268.73 L623.31 268.74 L625.12 268.74 L626.94 268.75 L628.76 268.75 L630.59 268.75 L632.43 268.76 L634.27 268.76 L636.11 268.76 L637.96 268.77 L639.82 268.77 L641.68 268.77 L643.54 268.77 L645.41 268.78 L647.29 268.78 L649.17 268.78 L651.05 268.78 L652.94 268.78 L654.84 268.78 L656.74 268.78 L658.64 268.79 L660.56 268.79 L662.47 268.79 L664.39 268.79 L666.32 268.79 L668.25 268.79 L670.18 268.79 L672.12 268.79 L674.07 268.79 L676.02 268.79 L677.97 268.79 L679.93 268.79 L681.9 268.79" fill="none" stroke="#10f0f4" stroke-width="1.5" stroke-linejoin="round"/>
</g>
<path d="M396.59 274.2 V270.2 M406.43 274.2 V270.2 M416.26 274.2 V270.2 M426.1 274.2 V270.2 M445.78 274.2 V270.2 M455.62 274.2 V270.2 M465.46 274.2 V270.2 M475.3 274.2 V270.2 M494.97 274.2 V270.2 M504.81 274.2 V270.2 M514.65 274.2 V270.2 M524.49 274.2 V270.2 M544.16 274.2 V270.2 M554 274.2 V270.2 M563.84 274.2 V270.2 M573.68 274.2 V270.2 M593.36 274.2 V270.2 M603.19 274.2 V270.2 M613.03 274.2 V270.2 M622.87 274.2 V270.2 M642.55 274.2 V270.2 M652.38 274.2 V270.2 M662.22 274.2 V270.2 M672.06 274.2 V270.2 M386.75 263.51 H390.75 M386.75 258.23 H390.75 M386.75 252.94 H390.75 M386.75 247.66 H390.75 M386.75 237.08 H390.75 M386.75 231.8 H390.75 M386.75 226.51 H390.75 M386.75 221.23 H390.75 M386.75 210.65 H390.75 M386.75 205.37 H390.75 M386.75 200.08 H390.75 M386.75 194.8 H390.75 M386.75 184.22 H390.75 M386.75 178.94 H390.75 M386.75 173.65 H390.75 M386.75 168.37 H390.75 M386.75 157.79 H390.75 M386.75 152.51 H390.75 M386.75 147.22 H390.75 M386.75 141.94 H390.75 M386.75 131.36 H390.75 M386.75 126.08 H390.75 M386.75 120.79 H390.75 M386.75 115.51 H390.75 M386.75 104.93 H390.75 M386.75 99.65 H390.75 M386.75 94.36 H390.75 M386.75 89.08 H390.75 M386.75 78.5 H390.75 M386.75 73.22 H390.75 M386.75 67.93 H390.75 M386.75 62.65 H390.75 M386.75 52.07 H390.75 M386.75 46.79 H390.75 M386.75 41.5 H390.75 M386.75 36.22 H390.75 M386.75 25.64 H390.75 M386.75 20.36 H390.75 M386.75 15.07 H390.75 M386.75 9.79 H390.75" stroke="#000" stroke-width="0.5" fill="none"/>
<path d="M435.94 274.2 V267.4 M485.13 274.2 V267.4 M534.33 274.2 V267.4 M583.52 274.2 V267.4 M632.71 274.2 V267.4 M386.75 268.8 H393.55 M386.75 242.37 H393.55 M386.75 215.94 H393.55 M386.75 189.51 H393.55 M386.75 163.08 H393.55 M386.75 136.65 H393.55 M386.75 110.22 H393.55 M386.75 83.79 H393.55 M386.75 57.36 H393.55 M386.75 30.93 H393.55" stroke="#000" stroke-width="1.3" fill="none"/>
<rect x="386.75" y="4.5" width="295.15" height="269.7" fill="none" stroke="#000" stroke-width="1.4"/>
<g font-size="10.3" fill="#1a1a1a" stroke="#1a1a1a" stroke-width="0.2">
<text x="386.75" y="284.7" text-anchor="middle">0</text>
<text x="435.94" y="284.7" text-anchor="middle">1</text>
<text x="485.13" y="284.7" text-anchor="middle">2</text>
<text x="534.33" y="284.7" text-anchor="middle">3</text>
<text x="583.52" y="284.7" text-anchor="middle">4</text>
<text x="632.71" y="284.7" text-anchor="middle">5</text>
<text x="681.9" y="284.7" text-anchor="middle">6</text>
<text x="382.45" y="272.4" text-anchor="end">0</text>
<text x="382.45" y="245.97" text-anchor="end">0.1</text>
<text x="382.45" y="219.54" text-anchor="end">0.2</text>
<text x="382.45" y="193.11" text-anchor="end">0.3</text>
<text x="382.45" y="166.68" text-anchor="end">0.4</text>
<text x="382.45" y="140.25" text-anchor="end">0.5</text>
<text x="382.45" y="113.82" text-anchor="end">0.6</text>
<text x="382.45" y="87.39" text-anchor="end">0.7</text>
<text x="382.45" y="60.96" text-anchor="end">0.8</text>
<text x="382.45" y="34.53" text-anchor="end">0.9</text>
<text x="382.45" y="8.1" text-anchor="end">1</text>
<text x="414.5" y="27.9" stroke="none" fill="#2a2a2a">[ b ]</text>
<text x="634.4" y="16.6">K<tspan font-size="6.5" dy="2.2">r</tspan><tspan dy="-2.2"> = 0.1</tspan></text>
<text x="634.4" y="32.4">K<tspan font-size="6.5" dy="2.2">r</tspan><tspan dy="-2.2"> = 0.2</tspan></text>
<text x="634.4" y="48.3">K<tspan font-size="6.5" dy="2.2">r</tspan><tspan dy="-2.2"> = 0.3</tspan></text>
<text x="634.4" y="63.9">K<tspan font-size="6.5" dy="2.2">r</tspan><tspan dy="-2.2"> = 0.4</tspan></text>
</g>
<path d="M582.6 13.1 H629.6" stroke="#d01c1c" stroke-width="1.5"/>
<path d="M582.6 28.9 H629.6" stroke="#14d014" stroke-width="1.5"/>
<path d="M582.6 44.8 H629.6" stroke="#2c2cf4" stroke-width="1.5"/>
<path d="M582.6 60.4 H629.6" stroke="#10f0f4" stroke-width="1.5"/>
<text transform="translate(533.73 297.6) scale(1.3 1)" font-size="12" text-anchor="middle" fill="#1a1a1a">η</text>
<text transform="translate(363.3 139.7) rotate(-90)" font-size="13.2" letter-spacing="0.6" text-anchor="middle" fill="#1a1a1a">ϕ(η)</text>
</g>
</svg>
</body></html>
